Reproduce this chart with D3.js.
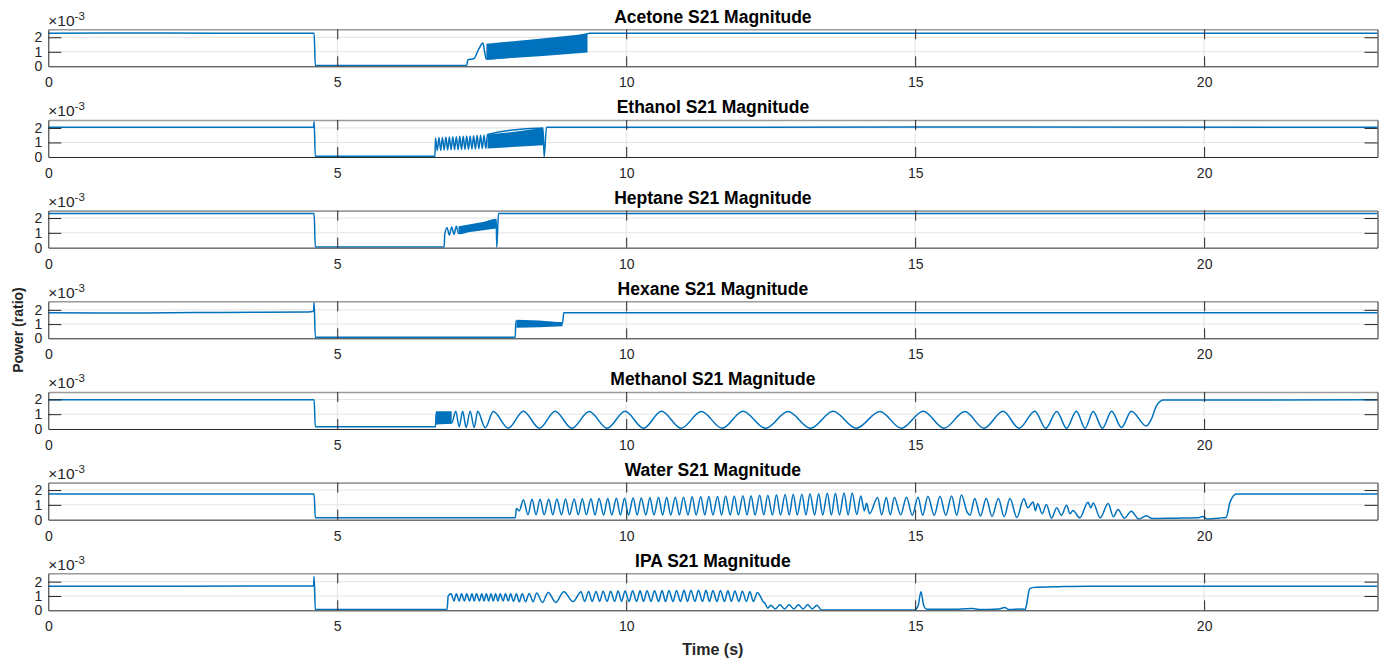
<!DOCTYPE html>
<html>
<head>
<meta charset="utf-8">
<script src="https://cdn.jsdelivr.net/npm/d3@7"></script>
<style>
  body { margin: 0; background: #fff; }
  svg { display: block; font-family: "Liberation Sans", Arial, Helvetica, sans-serif; }
</style>
</head>
<body>
<div id="chart"></div>
<script>
// values are in units of 1e-3 (as the "x10^-3" axis labels show), time in seconds
var xTicks = [0, 5, 10, 15, 20];
var yTicks = [0, 1, 2];
var titles = ["Acetone S21 Magnitude", "Ethanol S21 Magnitude", "Heptane S21 Magnitude",
              "Hexane S21 Magnitude", "Methanol S21 Magnitude", "Water S21 Magnitude", "IPA S21 Magnitude"];
var yMax = [2.55, 2.55, 2.5, 2.6, 2.5, 2.5, 2.58];

var acetone = [[0,2.28],[2,2.29],[4,2.28],[4.6,2.28],[4.62,0.05],[7.24,0.06],[7.26,0.45],[7.36,0.52],
  [7.45,1.2],[7.52,1.6],[7.55,1.0],[7.58,0.5],[9.33,2.25],[9.37,2.28],[15,2.27],[23,2.28]];
var acetoneBand = [[7.58,0.45,1.55],[8.5,0.7,1.9],[9.33,0.95,2.25]];

var ethanol = [[0,2.05],[4.59,2.05],[4.6,2.45],[4.62,0.05],[6.69,0.05],[6.70,1.30],[6.73,0.45],[6.76,1.35],
  [6.79,0.45],[6.82,1.35],[6.85,0.48],[6.88,1.38],[6.91,0.48],[6.94,1.38],[6.97,0.5],[7.00,1.4],[7.03,0.5],
  [7.06,1.4],[7.09,0.5],[7.12,1.42],[7.15,0.52],[7.18,1.42],[7.21,0.52],[7.24,1.45],[7.27,0.53],[7.30,1.45],
  [7.33,0.55],[7.36,1.47],[7.39,0.55],[7.42,1.5],[7.45,0.56],[7.48,1.5],[7.51,0.57],[7.54,1.52],[7.57,0.58],
  [7.60,1.55],[8.56,2.0],[8.58,0.0],[8.62,2.05],[15,2.06],[23,2.05]];
var ethanolBand = [[7.6,0.58,1.55],[8.1,0.7,1.75],[8.56,0.8,2.0]];

var heptane = [[0,2.3],[4.6,2.3],[4.62,0.05],[6.85,0.05],[6.86,0.9],[6.9,1.35],[6.94,0.85],[6.98,1.4],
  [7.02,0.9],[7.06,1.45],[7.1,0.95],[7.75,1.9],[7.76,0.02],[7.79,2.3],[23,2.3]];
var heptaneBand = [[7.1,0.95,1.45],[7.4,1.1,1.65],[7.75,1.3,1.9]];

var hexane = [[0,1.8],[1.5,1.78],[3,1.82],[4.5,1.85],[4.59,1.9],[4.6,2.55],[4.62,0.08],[8.08,0.08],
  [8.09,1.2],[8.9,1.1],[8.92,1.8],[23,1.8]];
var hexaneBand = [[8.1,0.75,1.3],[8.5,0.78,1.25],[8.9,0.85,1.1]];

var methanol = [[0,1.97],[4.6,1.97],[4.62,0.15],[6.7,0.15],[6.71,1.1],[6.98,0.4],[7.05,1.2],[7.11,0.15],
  [7.17,1.2],[7.23,0.1],[7.3,1.2],[7.37,0.1],[7.43,1.2],[7.56,0.08],[7.7,1.18],[7.96,0.06],[8.22,1.2],
  [8.5,0.05],[8.77,1.2],[9.06,0.05],[9.36,1.18],[9.67,0.05],[9.98,1.2],[10.3,0.05],[10.61,1.2],[10.95,0.05],
  [11.3,1.18],[11.66,0.05],[12.02,1.2],[12.41,0.05],[12.8,1.18],[13.19,0.05],[13.58,1.2],[13.98,0.05],
  [14.39,1.18],[14.76,0.05],[15.14,1.2],[15.5,0.05],[15.86,1.18],[16.19,0.05],[16.52,1.2],[16.8,0.05],
  [17.07,1.2],[17.26,0.05],[17.45,1.18],[17.62,0.05],[17.79,1.2],[17.94,0.05],[18.08,1.18],[18.24,0.05],
  [18.4,1.2],[18.57,0.1],[18.74,1.2],[19.0,0.2],[19.08,0.6],[19.18,1.6],[19.3,1.95],[23,1.97]];
var methanolBand = [[6.71,0.3,1.2],[6.98,0.35,1.2]];

var water = [[0,1.73],[4.6,1.73],[4.62,0.12],[8.08,0.12],[8.1,0.75],[8.15,0.6],
  [8.22,1.35],[8.30,0.33],[8.37,1.37],[8.44,0.33],[8.51,1.38],[8.58,0.33],[8.66,1.38],[8.73,0.33],
  [8.80,1.4],[8.88,0.33],[8.95,1.4],[9.02,0.33],[9.10,1.4],[9.17,0.33],[9.24,1.42],[9.31,0.33],
  [9.39,1.42],[9.46,0.32],[9.53,1.43],[9.61,0.32],[9.68,1.43],[9.75,0.32],[9.83,1.45],[9.90,0.32],
  [9.97,1.45],[10.04,0.32],[10.12,1.47],[10.19,0.32],[10.26,1.47],[10.34,0.32],[10.41,1.48],[10.48,0.32],
  [10.56,1.5],[10.63,0.32],[10.70,1.5],[10.77,0.32],[10.85,1.52],[10.92,0.32],[10.99,1.52],[11.07,0.32],
  [11.14,1.55],[11.21,0.32],[11.29,1.55],[11.36,0.32],[11.43,1.57],[11.50,0.32],[11.58,1.57],[11.65,0.32],
  [11.72,1.6],[11.80,0.32],[11.87,1.6],[11.94,0.32],[12.02,1.62],[12.09,0.32],[12.16,1.62],[12.23,0.32],
  [12.31,1.65],[12.38,0.32],[12.45,1.65],[12.53,0.32],[12.60,1.68],[12.67,0.32],[12.75,1.7],[12.82,0.32],
  [12.89,1.72],[12.96,0.32],[13.04,1.72],[13.11,0.32],[13.18,1.75],[13.26,0.32],[13.33,1.75],[13.40,0.32],
  [13.48,1.78],[13.55,0.32],[13.62,1.78],[13.69,0.32],[13.77,1.8],[13.84,0.32],[13.91,1.8],[13.99,0.35],
  [14.06,1.6],[14.12,0.6],[14.16,1.1],[14.21,0.4],[14.35,1.5],[14.42,0.33],[14.50,1.5],[14.57,0.33],
  [14.64,1.5],[14.75,0.33],[14.85,1.52],[14.95,0.3],[15.05,1.52],[15.13,0.3],[15.22,1.58],[15.33,0.3],
  [15.43,1.58],[15.53,0.3],[15.63,1.6],[15.72,0.3],[15.80,1.66],[15.9,0.5],[15.95,0.3],[16.03,1.43],
  [16.13,0.25],[16.23,1.43],[16.33,0.22],[16.44,1.43],[16.54,0.2],[16.64,1.43],[16.76,0.15],[16.88,1.41],
  [16.95,0.8],[17.04,1.2],[17.08,0.6],[17.12,1.07],[17.2,0.4],[17.27,1.02],[17.36,0.1],[17.45,0.8],
  [17.53,0.3],[17.62,0.98],[17.68,0.4],[17.73,0.61],[17.85,0.12],[17.99,1.18],[18.04,0.8],[18.08,1.13],
  [18.2,0.12],[18.34,1.09],[18.43,0.2],[18.51,0.68],[18.62,0.1],[18.74,0.57],[18.87,0.05],[19.0,0.27],
  [19.1,0.08],[19.5,0.1],[19.9,0.12],[19.97,0.22],[20.05,0.05],[20.3,0.12],[20.38,0.15],[20.45,1.2],
  [20.56,1.73],[23,1.73]];

var ipa = [[0,1.68],[4.59,1.7],[4.6,2.35],[4.62,0.05],[6.9,0.05],[6.92,1.0],[6.97,1.15],[7.02,0.65],
  [7.06,1.15],[7.11,0.65],[7.15,1.15],[7.2,0.65],[7.24,1.15],[7.29,0.65],[7.33,1.15],[7.37,0.65],
  [7.41,1.15],[7.46,0.65],[7.50,1.15],[7.54,0.65],[7.58,1.15],[7.62,0.65],[7.66,1.15],[7.70,0.65],
  [7.74,1.15],[7.78,0.65],[7.82,1.15],[7.87,0.65],[7.91,1.15],[7.96,0.65],[8.0,1.15],[8.05,0.62],
  [8.1,1.15],[8.15,0.6],[8.2,1.15],[8.26,0.6],[8.32,1.18],[8.39,0.6],[8.45,1.2],[8.55,0.55],[8.65,1.25],
  [8.78,0.55],[8.92,1.3],[9.08,0.6],[9.22,1.3],[9.28,0.62],[9.35,1.32],[9.41,0.62],[9.48,1.32],[9.54,0.62],
  [9.6,1.33],[9.67,0.62],[9.73,1.33],[9.8,0.62],[9.86,1.35],[9.92,0.62],[9.98,1.35],[10.05,0.62],
  [10.11,1.36],[10.18,0.62],[10.24,1.36],[10.3,0.62],[10.36,1.37],[10.43,0.62],[10.49,1.37],[10.56,0.62],
  [10.62,1.38],[10.68,0.62],[10.74,1.38],[10.81,0.62],[10.87,1.38],[10.94,0.62],[11.0,1.4],[11.06,0.62],
  [11.12,1.4],[11.19,0.62],[11.25,1.4],[11.32,0.62],[11.38,1.4],[11.44,0.62],[11.5,1.38],[11.57,0.62],
  [11.63,1.38],[11.7,0.62],[11.76,1.36],[11.82,0.62],[11.88,1.35],[11.95,0.62],[12.01,1.33],[12.08,0.62],
  [12.14,1.3],[12.2,0.62],[12.27,1.25],[12.33,0.9],[12.37,0.6],[12.4,0.5],[12.45,0.15],[12.5,0.35],
  [12.58,0.1],[12.66,0.38],[12.74,0.1],[12.82,0.38],[12.9,0.1],[12.98,0.38],[13.06,0.1],[13.14,0.38],
  [13.22,0.1],[13.3,0.35],[13.38,0.03],[14.99,0.03],[15.05,0.3],[15.1,1.3],[15.15,0.3],[15.2,0.08],
  [15.6,0.07],[16.0,0.12],[16.1,0.06],[16.45,0.1],[16.55,0.2],[16.62,0.05],[16.85,0.1],[16.9,0.05],
  [16.92,0.25],[16.98,1.5],[17.05,1.6],[17.5,1.65],[18,1.68],[23,1.68]];

var series = [acetone, ethanol, heptane, hexane, methanol, water, ipa];
var bands = [acetoneBand, ethanolBand, heptaneBand, hexaneBand, methanolBand, [], []];

var W = 1382, H = 660;
var left = 48.3, right = 1377.5;
var top0 = 29.3, step = 90.67, ph = 37;
var blue = "#0072BD", ink = "#262626";

var svg = d3.select("#chart").append("svg").attr("width", W).attr("height", H);

var x = d3.scaleLinear().domain([0, 23]).range([left, right]);

svg.append("defs").append("clipPath").attr("id", "clip")
  .append("rect").attr("x", left).attr("y", 0).attr("width", right - left).attr("height", ph);

titles.forEach(function (title, i) {
  var g = svg.append("g").attr("transform", "translate(0," + (top0 + step * i) + ")");
  var y = d3.scaleLinear().domain([0, yMax[i]]).range([ph, 0]);

  // light grid
  g.selectAll(".gx").data(xTicks.slice(1)).join("line")
    .attr("x1", function (d) { return x(d); }).attr("x2", function (d) { return x(d); })
    .attr("y1", 0).attr("y2", ph).attr("stroke", "#e3e3e3");
  g.selectAll(".gy").data(yTicks.slice(1)).join("line")
    .attr("x1", left).attr("x2", right)
    .attr("y1", function (d) { return y(d); }).attr("y2", function (d) { return y(d); })
    .attr("stroke", "#e3e3e3");

  var plot = g.append("g").attr("clip-path", "url(#clip)");
  plot.append("path")
    .datum(bands[i])
    .attr("d", d3.area().x(function (d) { return x(d[0]); })
      .y0(function (d) { return y(d[1]); }).y1(function (d) { return y(d[2]); }))
    .attr("fill", blue);
  plot.append("path")
    .datum(series[i])
    .attr("d", d3.line().x(function (d) { return x(d[0]); }).y(function (d) { return y(d[1]); })
      .curve(d3.curveMonotoneX))
    .attr("fill", "none").attr("stroke", blue).attr("stroke-width", 1.5)
    .attr("stroke-linejoin", "round");

  // axes
  var xb = g.append("g").attr("transform", "translate(0," + ph + ")")
    .call(d3.axisBottom(x).tickValues(xTicks).tickSize(-10).tickSizeOuter(0).tickPadding(11));
  var xt = g.append("g")
    .call(d3.axisTop(x).tickValues(xTicks).tickSize(-10).tickSizeOuter(0).tickFormat(""));
  var yl = g.append("g").attr("transform", "translate(" + left + ",0)")
    .call(d3.axisLeft(y).tickValues(yTicks).tickSize(-13).tickSizeOuter(0).tickPadding(6)
      .tickFormat(d3.format("d")));
  var yr = g.append("g").attr("transform", "translate(" + right + ",0)")
    .call(d3.axisRight(y).tickValues(yTicks).tickSize(-13).tickSizeOuter(0).tickFormat(""));

  [xb, xt, yl, yr].forEach(function (a) {
    a.selectAll("line").attr("stroke", ink);
    a.select(".domain").attr("stroke", ink);
    a.selectAll("text").attr("fill", ink).style("font-size", "14px")
      .style("font-family", "'Liberation Sans', Arial, sans-serif");
  });
  xt.select(".domain").attr("stroke", "#9a9a9a").attr("stroke-width", 1.6);
  yl.selectAll(".tick").filter(function (d) { return d === 0; }).select("line").remove();
  yr.selectAll(".tick").filter(function (d) { return d === 0; }).select("line").remove();
  xb.selectAll(".tick").filter(function (d) { return d === 0; }).select("line").remove();
  xt.selectAll(".tick").filter(function (d) { return d === 0; }).select("line").remove();

  // exponent label
  var ex = g.append("text").attr("x", left).attr("y", -3.6).attr("fill", ink)
    .style("font-size", "15.5px");
  ex.append("tspan").text("\u00d710");
  ex.append("tspan").attr("dy", -6).style("font-size", "11.5px").text("-3");

  g.append("text").attr("x", (left + right) / 2).attr("y", -6.5)
    .attr("text-anchor", "middle").attr("fill", "#000")
    .style("font-size", "17.5px").style("font-weight", "bold").text(title);
});

svg.append("text")
  .attr("transform", "translate(23,330) rotate(-90)")
  .attr("text-anchor", "middle").attr("fill", ink)
  .style("font-size", "14px").style("font-weight", "bold").text("Power (ratio)");

svg.append("text")
  .attr("x", (left + right) / 2).attr("y", 655)
  .attr("text-anchor", "middle").attr("fill", ink)
  .style("font-size", "16px").style("font-weight", "bold").text("Time (s)");
</script>
</body>
</html>
